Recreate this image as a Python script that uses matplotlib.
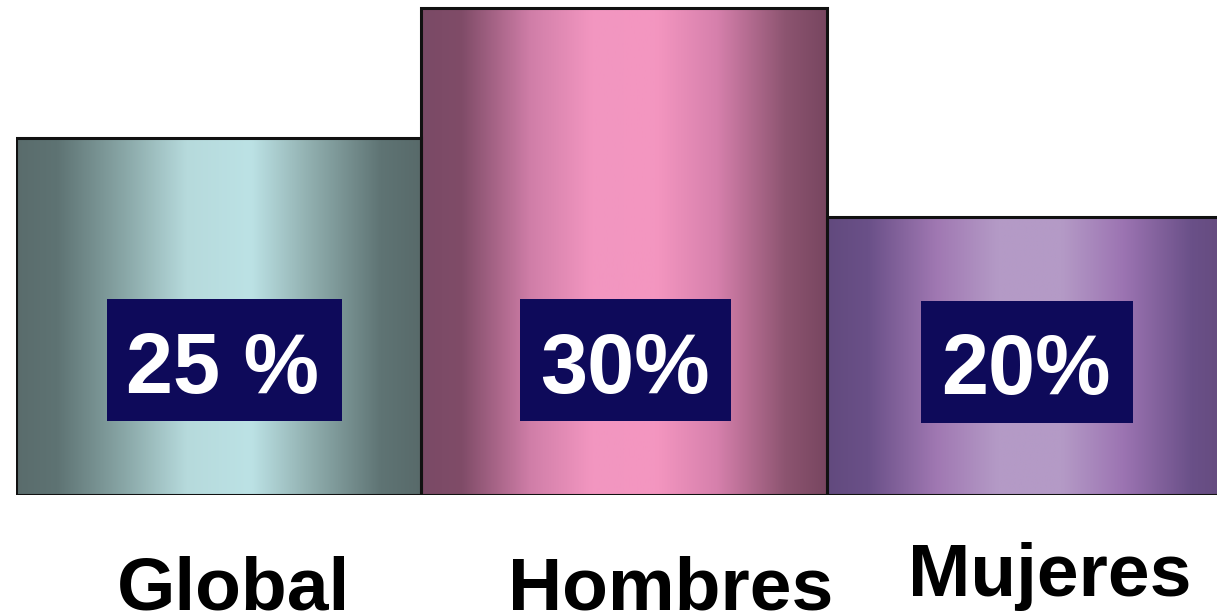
import numpy as np
import matplotlib
matplotlib.use("Agg")
import matplotlib.pyplot as plt
from matplotlib.patches import Rectangle
from matplotlib.colors import LinearSegmentedColormap

categories = ["Global", "Hombres", "Mujeres"]
bar_heights = [25.0, 34.1, 19.5]          # visual heights
value_labels = ["25 %", "30%", "20%"]

stops = [0.0, 0.1, 0.27, 0.42, 0.58, 0.73, 0.9, 1.0]
shades = [
    ["#5a6c6c", "#5e7373", "#8aa8a8", "#b6dadc", "#bce2e5", "#8fadad", "#5f7474", "#586a6a"],
    ["#7a4a66", "#804c68", "#d07ea8", "#f296c0", "#f496c0", "#d680ac", "#8c5470", "#784660"],
    ["#624a7e", "#6a5088", "#a078b2", "#b49ac6", "#b49ac6", "#9c74b2", "#6a5088", "#644a7c"],
]

W, H = 1217, 616
fig = plt.figure(figsize=(W / 100, H / 100), dpi=100)
fig.patch.set_facecolor("white")
ax = fig.add_axes([16 / W, (H - 495) / H, 1216 / W, 495 / H])
ax.set_xlim(-0.5, 2.5)
ax.set_ylim(0, 495 / 14.28)
ax.axis("off")

bars = ax.bar(range(len(categories)), bar_heights, width=1.0,
              facecolor="none", edgecolor="#111111", linewidth=2.2, zorder=3)

for i, b in enumerate(bars):
    cmap = LinearSegmentedColormap.from_list(f"c{i}", list(zip(stops, shades[i])))
    grad = np.linspace(0, 1, 256).reshape(1, -1)
    x0 = b.get_x()
    im = ax.imshow(grad, cmap=cmap, aspect="auto",
                   extent=[x0, x0 + b.get_width(), 0, b.get_height()],
                   zorder=2)
    im.set_clip_path(b)

px = 1216 / 3  # pixels per bar unit
py = 14.28
box_cx = [(224.5 - 16) / px - 0.5, (625.5 - 16) / px - 0.5, (1027 - 16) / px - 0.5]
box_cy = [(495 - 360) / py, (495 - 360) / py, (495 - 362) / py]
box_w = [235 / px, 211 / px, 212 / px]
box_h = 122 / py
txt_cx = [(222 - 16) / px - 0.5, (625 - 16) / px - 0.5, (1025.5 - 16) / px - 0.5]
txt_base = [(495 - 393) / py, (495 - 393) / py, (495 - 394) / py]
for i, lab in enumerate(value_labels):
    ax.add_patch(Rectangle((box_cx[i] - box_w[i] / 2, box_cy[i] - box_h / 2),
                           box_w[i], box_h, facecolor="#0e0a5a",
                           edgecolor="none", zorder=4))
    ax.text(txt_cx[i], txt_base[i], lab, color="white", fontsize=61,
            fontweight="bold", family="Liberation Sans",
            ha="center", va="baseline", zorder=5)

lab_x = [233, 671, 1050]
lab_base = [609, 609, 596]
for i, c in enumerate(categories):
    fig.text(lab_x[i] / W, (H - lab_base[i]) / H, c, fontsize=54,
             fontweight="bold", family="Liberation Sans",
             ha="center", va="baseline", color="black")

fig.savefig("out.png", dpi=100, facecolor="white")
